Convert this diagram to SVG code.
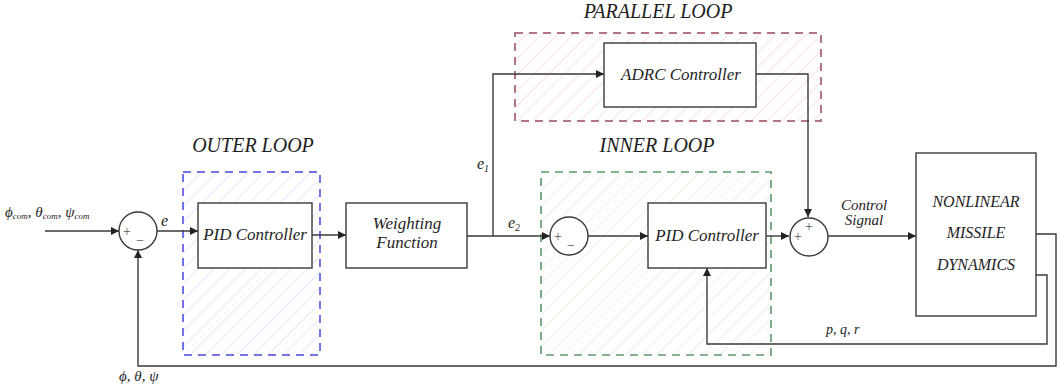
<svg xmlns="http://www.w3.org/2000/svg" width="1058" height="385" viewBox="0 0 1058 385">
  <defs>
    <marker id="arr" viewBox="0 0 10 10" refX="10" refY="5" markerWidth="8" markerHeight="8" markerUnits="userSpaceOnUse" orient="auto">
      <path d="M0,0 L10,5 L0,10 z" fill="#222"/>
    </marker>
    <pattern id="hatchBlue" patternUnits="userSpaceOnUse" width="11" height="11" patternTransform="rotate(45)">
      <line x1="0" y1="0" x2="0" y2="11" stroke="#c9d2f2" stroke-width="1"/>
    </pattern>
    <pattern id="hatchGreen" patternUnits="userSpaceOnUse" width="11" height="11" patternTransform="rotate(45)">
      <line x1="0" y1="0" x2="0" y2="11" stroke="#cdeccd" stroke-width="1"/>
    </pattern>
    <pattern id="hatchRed" patternUnits="userSpaceOnUse" width="11" height="11" patternTransform="rotate(45)">
      <line x1="0" y1="0" x2="0" y2="11" stroke="#f2c4cc" stroke-width="1"/>
    </pattern>
  </defs>

  <rect width="1058" height="385" fill="#ffffff"/>

  <!-- loop regions -->
  <g id="outer-loop">
    <rect x="183" y="172" width="137" height="183" fill="url(#hatchBlue)" stroke="#7474e6" stroke-width="2" stroke-dasharray="8,6"/>
    <text x="253" y="152" font-family="Liberation Serif" font-style="italic" font-size="20" text-anchor="middle" fill="#1e1e1e">OUTER LOOP</text>
  </g>
  <g id="inner-loop">
    <rect x="541" y="172" width="230" height="183" fill="url(#hatchGreen)" stroke="#5c9a68" stroke-width="1.6" stroke-dasharray="8,6"/>
    <text x="657" y="152" font-family="Liberation Serif" font-style="italic" font-size="20" text-anchor="middle" fill="#1e1e1e">INNER LOOP</text>
  </g>
  <g id="parallel-loop">
    <rect x="515" y="33" width="306" height="88" fill="url(#hatchRed)" stroke="#b47582" stroke-width="2" stroke-dasharray="8,6"/>
    <text x="658" y="18" font-family="Liberation Serif" font-style="italic" font-size="20" text-anchor="middle" fill="#1e1e1e">PARALLEL LOOP</text>
  </g>

  <!-- connectors -->
  <g id="connectors" fill="none" stroke="#3a3a3a" stroke-width="1.4">
    <line x1="45" y1="231" x2="119" y2="231" marker-end="url(#arr)"/>
    <line x1="157" y1="231" x2="198" y2="231" marker-end="url(#arr)"/>
    <line x1="312" y1="235" x2="346" y2="235" marker-end="url(#arr)"/>
    <line x1="467" y1="236" x2="550" y2="236" marker-end="url(#arr)"/>
    <polyline points="493,236 493,74 604,74" marker-end="url(#arr)"/>
    <line x1="588" y1="236" x2="648" y2="236" marker-end="url(#arr)"/>
    <polyline points="756,74 808,74 808,217" marker-end="url(#arr)"/>
    <line x1="766" y1="236" x2="789" y2="236" marker-end="url(#arr)"/>
    <line x1="828" y1="236" x2="916" y2="236" marker-end="url(#arr)"/>
    <polyline points="1036,234 1056,234 1056,366 138,366 138,250" marker-end="url(#arr)"/>
    <polyline points="1036,275 1047,275 1047,344 707,344 707,268" marker-end="url(#arr)"/>
  </g>

  <!-- signal labels -->
  <g id="signals" fill="#1e1e1e">
    <text x="5" y="217" font-family="Liberation Serif" font-style="italic" font-size="15">ϕ<tspan font-size="9" dy="2">com</tspan><tspan dy="-2">, θ</tspan><tspan font-size="9" dy="2">com</tspan><tspan dy="-2">, ψ</tspan><tspan font-size="9" dy="2">com</tspan></text>
    <text x="161" y="226" font-family="Liberation Serif" font-style="italic" font-size="16">e</text>
    <text x="477" y="169" font-family="Liberation Serif" font-style="italic" font-size="16">e<tspan font-size="10" dy="3">1</tspan></text>
    <text x="508" y="228" font-family="Liberation Serif" font-style="italic" font-size="16">e<tspan font-size="10" dy="3">2</tspan></text>
    <text x="864" y="210" font-family="Liberation Serif" font-style="italic" font-size="15" text-anchor="middle">Control</text>
    <text x="864" y="225" font-family="Liberation Serif" font-style="italic" font-size="15" text-anchor="middle">Signal</text>
    <text x="826" y="334" font-family="Liberation Serif" font-style="italic" font-size="14">p, q, r</text>
    <text x="119" y="381" font-family="Liberation Serif" font-style="italic" font-size="15">ϕ, θ, ψ</text>
  </g>

  <!-- summing junctions -->
  <g id="sum-outer">
    <circle cx="138" cy="231" r="19" fill="#ffffff" stroke="#3a3a3a" stroke-width="1.4"/>
    <text x="127" y="236" font-family="Liberation Serif" font-size="14" text-anchor="middle" fill="#555">+</text>
    <text x="140" y="245" font-family="Liberation Serif" font-size="14" text-anchor="middle" fill="#555">−</text>
  </g>
  <g id="sum-inner">
    <circle cx="569" cy="236" r="19" fill="#ffffff" stroke="#3a3a3a" stroke-width="1.4"/>
    <text x="558" y="241" font-family="Liberation Serif" font-size="14" text-anchor="middle" fill="#555">+</text>
    <text x="571" y="250" font-family="Liberation Serif" font-size="14" text-anchor="middle" fill="#555">−</text>
  </g>
  <g id="sum-control">
    <circle cx="809" cy="237" r="19" fill="#ffffff" stroke="#3a3a3a" stroke-width="1.4"/>
    <text x="798" y="241" font-family="Liberation Serif" font-size="14" text-anchor="middle" fill="#555">+</text>
    <text x="809" y="231" font-family="Liberation Serif" font-size="14" text-anchor="middle" fill="#555">+</text>
  </g>

  <!-- blocks -->
  <g id="pid-outer">
    <rect x="198" y="203" width="114" height="65" fill="#ffffff" stroke="#3a3a3a" stroke-width="1.4"/>
    <text x="255" y="240" font-family="Liberation Serif" font-style="italic" font-size="17" text-anchor="middle" fill="#1e1e1e">PID Controller</text>
  </g>
  <g id="weighting">
    <rect x="346" y="203" width="121" height="65" fill="#ffffff" stroke="#3a3a3a" stroke-width="1.4"/>
    <text x="407" y="229" font-family="Liberation Serif" font-style="italic" font-size="17" text-anchor="middle" fill="#1e1e1e">Weighting</text>
    <text x="407" y="248" font-family="Liberation Serif" font-style="italic" font-size="17" text-anchor="middle" fill="#1e1e1e">Function</text>
  </g>
  <g id="adrc">
    <rect x="604" y="43" width="152" height="64" fill="#ffffff" stroke="#3a3a3a" stroke-width="1.4"/>
    <text x="681" y="80" font-family="Liberation Serif" font-style="italic" font-size="17" text-anchor="middle" fill="#1e1e1e">ADRC Controller</text>
  </g>
  <g id="pid-inner">
    <rect x="648" y="203" width="118" height="65" fill="#ffffff" stroke="#3a3a3a" stroke-width="1.4"/>
    <text x="707" y="241" font-family="Liberation Serif" font-style="italic" font-size="17" text-anchor="middle" fill="#1e1e1e">PID Controller</text>
  </g>
  <g id="missile">
    <rect x="916" y="153" width="120" height="163" fill="#ffffff" stroke="#3a3a3a" stroke-width="1.4"/>
    <text x="976" y="207" font-family="Liberation Serif" font-style="italic" font-size="16" text-anchor="middle" fill="#1e1e1e">NONLINEAR</text>
    <text x="976" y="238" font-family="Liberation Serif" font-style="italic" font-size="16" text-anchor="middle" fill="#1e1e1e">MISSILE</text>
    <text x="976" y="270" font-family="Liberation Serif" font-style="italic" font-size="16" text-anchor="middle" fill="#1e1e1e">DYNAMICS</text>
  </g>
</svg>
